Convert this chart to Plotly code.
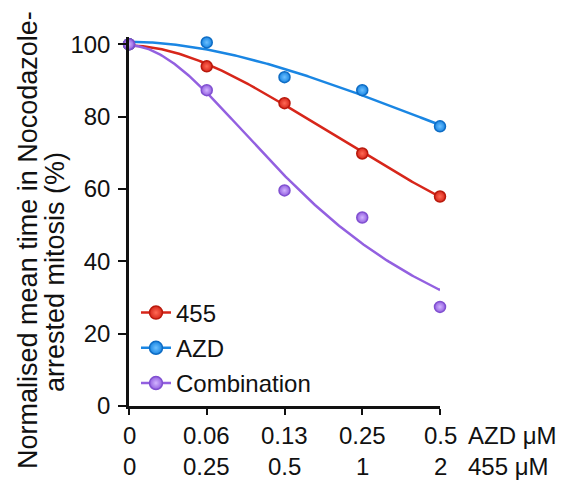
import numpy as np
import plotly.graph_objects as go

# Dose steps (equal spacing on the x axis)
azd_um = ["0", "0.06", "0.13", "0.25", "0.5"]
d455_um = ["0", "0.25", "0.5", "1", "2"]
dose_idx = [0, 1, 2, 3, 4]

# Normalised mean time in nocodazole-arrested mitosis (%)
vals_455 = [100.0, 93.9, 83.7, 69.8, 57.9]
vals_azd = [100.0, 100.5, 90.9, 87.3, 77.3]
vals_combo = [100.0, 87.3, 59.6, 52.1, 27.4]

series = [
    ("455", vals_455, "#d7261a", "#ff6a55", "#b8190c"),
    ("AZD", vals_azd, "#1a86e3", "#6cc0ff", "#0e6cc4"),
    ("Combination", vals_combo, "#9360e0", "#d2b4ff", "#8050d0"),
]


def fit_logistic(x, y):
    """Least-squares fit of y = top / (1 + (x/c)^h) by grid search over c, h."""
    x = np.asarray(x, float)
    y = np.asarray(y, float)
    best = None
    for c in np.linspace(0.5, 25, 491):
        for h in np.linspace(0.5, 4.0, 141):
            g = 1.0 / (1.0 + (x / c) ** h)
            top = (y @ g) / (g @ g)
            err = np.sum((y - top * g) ** 2)
            if best is None or err < best[0]:
                best = (err, top, c, h)
    _, top, c, h = best
    return lambda xx: top / (1.0 + (np.asarray(xx) / c) ** h)


fig = go.Figure()
xs = np.linspace(0, 4, 200)
for name, vals, col, light, edge in series:
    f = fit_logistic(dose_idx, vals)
    fig.add_trace(go.Scatter(x=xs, y=f(xs), mode="lines", showlegend=False,
                             line=dict(color=col, width=2.5), hoverinfo="skip",
                             cliponaxis=False))
marker_traces = []
for name, vals, col, light, edge in series:
    mk = dict(size=11, color=col, line=dict(color=edge, width=1.5),
              gradient=dict(type="radial", color=light))
    fig.add_trace(go.Scatter(x=dose_idx, y=vals, mode="markers", marker=mk,
                             showlegend=False, cliponaxis=False))
    marker_traces.append((name, col, mk))

# Legend entries: line + shaded marker
for name, col, mk in marker_traces:
    lg_mk = dict(mk, size=13)
    fig.add_trace(go.Scatter(x=[None], y=[None], mode="lines+markers", name=name,
                             legendgroup=name, line=dict(color=col, width=2.5),
                             marker=lg_mk))

# Two-row dose labels under the x axis
FAMILY = "Liberation Sans, Arial, sans-serif"
font = dict(family=FAMILY, size=24, color="#111")
for i, a, b in zip(dose_idx, azd_um, d455_um):
    fig.add_annotation(x=i, y=0, xref="x", yref="paper", text=a, showarrow=False,
                       yshift=-29, yanchor="middle", font=font)
    fig.add_annotation(x=i, y=0, xref="x", yref="paper", text=b, showarrow=False,
                       yshift=-60, yanchor="middle", font=font)
fig.add_annotation(x=4, y=0, xref="x", yref="paper", text="AZD μM", showarrow=False,
                   xanchor="left", xshift=26, yshift=-29, yanchor="middle", font=font)
fig.add_annotation(x=4, y=0, xref="x", yref="paper", text="455 μM", showarrow=False,
                   xanchor="left", xshift=26, yshift=-60, yanchor="middle", font=font)

# Y axis title, two lines
title_font = dict(family=FAMILY, size=27, color="#111")
fig.add_annotation(x=-0.3248, y=0.45, xref="paper", yref="paper", textangle=-90,
                   xanchor="center", yanchor="middle", showarrow=False,
                   text="Normalised mean time in Nocodazole-", font=title_font)
fig.add_annotation(x=-0.238, y=0.363, xref="paper", yref="paper", textangle=-90,
                   xanchor="center", yanchor="middle", showarrow=False,
                   text="arrested mitosis (%)", font=title_font)

fig.update_layout(
    width=580, height=485,
    margin=dict(l=129, r=140, t=37, b=79),
    paper_bgcolor="white", plot_bgcolor="white",
    font=font,
    showlegend=True,
    legend=dict(x=0.0225, y=0.313, xanchor="left", yanchor="top",
                bgcolor="rgba(0,0,0,0)", tracegroupgap=1,
                font=font),
    xaxis=dict(range=[0, 4], showgrid=False, zeroline=False, showline=True,
               linecolor="#111", linewidth=2.5, ticks="outside", ticklen=6,
               tickwidth=2, tickcolor="#111", tickvals=dose_idx,
               showticklabels=False),
    yaxis=dict(range=[0, 102], showgrid=False, zeroline=False, showline=True,
               linecolor="#111", linewidth=2.5, ticks="outside", ticklen=8,
               tickwidth=2, tickcolor="#111", tickvals=[0, 20, 40, 60, 80, 100],
               ticklabelstandoff=3, tickfont=font),
)

fig.write_html("out.html")
